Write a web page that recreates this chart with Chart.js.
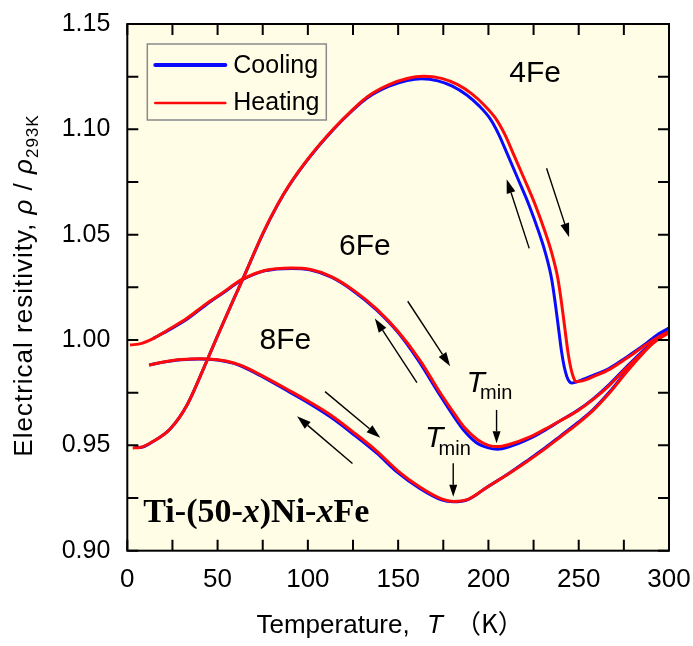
<!DOCTYPE html>
<html><head><meta charset="utf-8">
<script src="https://cdn.jsdelivr.net/npm/chart.js@4.4.0/dist/chart.umd.min.js"></script>
<style>html,body{margin:0;padding:0;background:#fff;}#wrap{width:693px;height:646px;}</style>
</head><body><div id="wrap"><canvas id="c" width="693" height="646"></canvas></div>
<script>
// ---- data (temperature in K, normalized resistivity) ----
const T4_heat   = [3, 7, 14, 24, 33, 44, 51, 59, 64, 75, 83, 90, 101, 114, 125, 133, 145, 155, 164, 174, 183, 191, 198, 204, 209, 214, 220, 226, 231.3, 235, 238.5, 240.5, 242.4, 244, 245.5, 247, 248.4, 252, 258, 267.3, 276.5, 285.7, 295, 300];
const rho4_heat = [0.9488, 0.9490, 0.9517, 0.9580, 0.9690, 0.9900, 1.0040, 1.0195, 1.0290, 1.0505, 1.0640, 1.0740, 1.0870, 1.1000, 1.1095, 1.1155, 1.1212, 1.1241, 1.1252, 1.1242, 1.1212, 1.1167, 1.1112, 1.1052, 1.0977, 1.0880, 1.0762, 1.0640, 1.0515, 1.0415, 1.0290, 1.0175, 1.0050, 0.9945, 0.9872, 0.9825, 0.9803, 0.9806, 0.9826, 0.9862, 0.9913, 0.9968, 1.0019, 1.0040];
const T4_cool   = [4, 7, 14, 24, 33, 44, 51, 59, 64, 75, 83, 90, 101, 114, 125, 133, 145, 155, 163, 172, 180, 188, 195, 201, 205.5, 210.5, 216.5, 222.5, 227.8, 231.5, 235, 237, 238.9, 240.5, 242, 243.5, 244.8, 246, 248, 252, 258, 267, 276, 286, 293, 300];
const rho4_cool = [0.9494, 0.9490, 0.9517, 0.9580, 0.9690, 0.9900, 1.0040, 1.0195, 1.0290, 1.0503, 1.0638, 1.0738, 1.0868, 1.0998, 1.1092, 1.1150, 1.1205, 1.1232, 1.1240, 1.1230, 1.1205, 1.1163, 1.1110, 1.1050, 1.0980, 1.0882, 1.0762, 1.0640, 1.0515, 1.0415, 1.0290, 1.0175, 1.0050, 0.9945, 0.9872, 0.9825, 0.9803, 0.9796, 0.9799, 0.9812, 0.9832, 0.9866, 0.9916, 0.9975, 1.0022, 1.0057];

const T6_heat   = [1.5, 8, 14, 22, 33, 44, 52, 64, 76, 91, 101, 113, 125, 138, 150, 162, 174, 182, 187, 194, 200, 205, 211, 223, 232, 240, 249, 258, 267, 276.5, 284, 291, 300];
const rho6_heat = [0.9976, 0.9984, 1.0005, 1.0045, 1.0103, 1.0174, 1.0220, 1.0290, 1.0330, 1.0342, 1.0336, 1.0301, 1.0238, 1.0148, 1.0040, 0.9905, 0.9740, 0.9640, 0.9582, 0.9527, 0.9500, 0.9494, 0.9503, 0.9540, 0.9580, 0.9618, 0.9662, 0.9718, 0.9785, 0.9868, 0.9930, 0.9984, 1.0035];
const T6_cool   = [14.4, 22, 33, 44, 52, 64, 76, 91, 101, 113, 125, 138, 150, 161, 173, 181, 186, 193, 200, 205, 211, 223, 232, 240, 249, 258, 267, 276.5, 284, 291, 300];
const rho6_cool = [1.0008, 1.0042, 1.0098, 1.0170, 1.0217, 1.0287, 1.0328, 1.0340, 1.0333, 1.0298, 1.0234, 1.0143, 1.0035, 0.9905, 0.9740, 0.9635, 0.9575, 0.9515, 0.9488, 0.9482, 0.9492, 0.9533, 0.9576, 0.9618, 0.9664, 0.9721, 0.9790, 0.9873, 0.9936, 0.9990, 1.0050];

const T8_heat   = [12, 20, 28, 33, 40, 50, 59, 64, 73.5, 89, 101, 113, 125, 138, 150, 162, 174, 180.5, 189, 199, 211, 223, 232, 240, 249, 258, 267, 276.5, 284, 291, 300];
const rho8_heat = [0.9881, 0.9896, 0.9906, 0.9909, 0.9911, 0.9906, 0.9891, 0.9876, 0.9836, 0.9764, 0.9706, 0.9642, 0.9564, 0.9474, 0.9378, 0.9302, 0.9246, 0.9234, 0.9245, 0.9300, 0.9364, 0.9433, 0.9488, 0.9541, 0.9600, 0.9666, 0.9748, 0.9848, 0.9922, 0.9984, 1.0042];
const T8_cool   = [12.2, 20, 28, 33, 40, 50, 59, 64, 73.5, 89, 101, 113, 125, 138, 150, 162, 174, 180.5, 189, 199, 211, 223, 232, 240, 249, 258, 267, 276.5, 284, 291, 300];
const rho8_cool = [0.9881, 0.9895, 0.9905, 0.9908, 0.9910, 0.9905, 0.9889, 0.9873, 0.9832, 0.9757, 0.9698, 0.9632, 0.9554, 0.9464, 0.9369, 0.9295, 0.9241, 0.9232, 0.9244, 0.9300, 0.9365, 0.9437, 0.9492, 0.9545, 0.9605, 0.9670, 0.9753, 0.9853, 0.9928, 0.9990, 1.0058];

const xTickValues = [0, 50, 100, 150, 200, 250, 300];
const yTickValues = [0.90, 0.95, 1.00, 1.05, 1.10, 1.15];
const legendLabels = ['Cooling', 'Heating'];
const sampleNames = ['4Fe', '6Fe', '8Fe'];
const sampleNameT   = [225.9, 131.6, 87.5];
const sampleNameRho = [1.1262, 1.0444, 0.9995];
// arrows: [tailT, tailRho, tipT, tipRho]
const arrowList = [
  [222.6, 1.0435, 210.1, 1.0763],
  [232.2, 1.0815, 244.7, 1.0488],
  [155.3, 1.0184, 178.8, 0.9876],
  [160.4, 0.9798, 137.1, 1.0102],
  [109.5, 0.9755, 140.1, 0.9536],
  [124.7, 0.9414, 94.0, 0.9638],
  [204.5, 0.9668, 204.5, 0.9510],
  [180.5, 0.9415, 180.5, 0.9256]
];
// T_min labels anchor (left, baseline) in data coords
const tminT   = [187.9, 164.9];
const tminRho = [0.9755, 0.9492];

const SANS = "'Liberation Sans', Arial, sans-serif";
const BLUE = '#0a0aff', RED = '#ff0a0a';

function pts(T, R) { return T.map((t, i) => ({x: t, y: R[i]})); }
function ds(label, T, R, color, order) {
  return {label, data: pts(T, R), borderColor: color, backgroundColor: color, borderWidth: 3,
    pointRadius: 0, fill: false, cubicInterpolationMode: 'monotone', order};
}

function drawArrow(ctx, x1, y1, x2, y2, head, hw) {
  const a = Math.atan2(y2 - y1, x2 - x1);
  const bx = x2 - head * Math.cos(a), by = y2 - head * Math.sin(a);
  ctx.beginPath(); ctx.moveTo(x1, y1); ctx.lineTo(bx, by); ctx.lineWidth = 1.4; ctx.stroke();
  ctx.beginPath(); ctx.moveTo(x2, y2);
  ctx.lineTo(bx + hw * Math.sin(a), by - hw * Math.cos(a));
  ctx.lineTo(bx - hw * Math.sin(a), by + hw * Math.cos(a));
  ctx.closePath(); ctx.fill();
}

function drawSegments(ctx, segs, x, y) {
  for (const s of segs) {
    ctx.font = s.font;
    ctx.fillText(s.text, x, y + (s.dy || 0));
    x += ctx.measureText(s.text).width + (s.gap || 0);
  }
}

function noPad(s) { s.paddingTop = 0; s.paddingBottom = 0; s.paddingLeft = 0; s.paddingRight = 0; }

const deco = {
  id: 'deco',
  beforeDatasetsDraw(chart) {
    const {ctx, chartArea: a} = chart;
    ctx.save(); ctx.fillStyle = '#fffde6';
    ctx.fillRect(a.left, a.top, a.right - a.left, a.bottom - a.top); ctx.restore();
  },
  afterDatasetsDraw(chart) {
    const {ctx, chartArea: a, scales: {x, y}} = chart;
    ctx.save();
    ctx.strokeStyle = '#000'; ctx.fillStyle = '#000';
    // frame
    ctx.lineWidth = 2;
    ctx.strokeRect(a.left, a.top, a.right - a.left, a.bottom - a.top);
    // inward ticks (major + minor)
    ctx.beginPath();
    for (let k = 0; k <= 12; k++) {
      const px = x.getPixelForValue(k * 25);
      ctx.moveTo(px, a.bottom); ctx.lineTo(px, a.bottom - 11);
      ctx.moveTo(px, a.top); ctx.lineTo(px, a.top + 11);
    }
    for (let k = 0; k <= 10; k++) {
      const py = y.getPixelForValue(0.9 + k * 0.025);
      ctx.moveTo(a.left, py); ctx.lineTo(a.left + 11, py);
      ctx.moveTo(a.right, py); ctx.lineTo(a.right - 11, py);
    }
    ctx.stroke();
    // arrows
    for (const [t1, r1, t2, r2] of arrowList) {
      const vert = t1 === t2;
      drawArrow(ctx, x.getPixelForValue(t1), y.getPixelForValue(r1), x.getPixelForValue(t2), y.getPixelForValue(r2), vert ? 12 : 14, vert ? 4 : 4.5);
    }
    // sample names
    ctx.textAlign = 'center'; ctx.textBaseline = 'middle';
    ctx.font = '30px ' + SANS;
    sampleNames.forEach((n, i) => ctx.fillText(n, x.getPixelForValue(sampleNameT[i]), y.getPixelForValue(sampleNameRho[i])));
    // T_min labels
    ctx.textAlign = 'left'; ctx.textBaseline = 'alphabetic';
    tminT.forEach((t, i) => {
      const px = x.getPixelForValue(t), py = y.getPixelForValue(tminRho[i]);
      ctx.font = 'italic 30px ' + SANS; ctx.fillText('T', px, py);
      ctx.font = '20px ' + SANS; ctx.fillText('min', px + 13.5, py + 7.6);
    });
    // composition label
    const B = "'Liberation Serif', 'Times New Roman', serif";
    drawSegments(ctx, [
      {text: 'Ti-(50-', font: 'bold 34px ' + B},
      {text: 'x', font: 'italic bold 34px ' + B},
      {text: ')Ni-', font: 'bold 34px ' + B},
      {text: 'x', font: 'italic bold 34px ' + B},
      {text: 'Fe', font: 'bold 34px ' + B}
    ], a.left + 16, 521.5);
    // legend
    const lx = a.left + 20, ly = a.top + 20;
    ctx.lineWidth = 1.5; ctx.strokeStyle = '#8a8a8a';
    ctx.strokeRect(lx, ly, 179, 76);
    ctx.lineCap = 'round';
    ctx.strokeStyle = BLUE; ctx.lineWidth = 4;
    ctx.beginPath(); ctx.moveTo(lx + 8, ly + 21); ctx.lineTo(lx + 78, ly + 21); ctx.stroke();
    ctx.strokeStyle = RED; ctx.lineWidth = 2.6;
    ctx.beginPath(); ctx.moveTo(lx + 8, ly + 59); ctx.lineTo(lx + 78, ly + 59); ctx.stroke();
    ctx.font = '25px ' + SANS; ctx.textBaseline = 'middle'; ctx.fillStyle = '#000';
    ctx.fillText(legendLabels[0], lx + 86, ly + 22);
    ctx.fillText(legendLabels[1], lx + 86, ly + 59);
    // x title
    ctx.textBaseline = 'alphabetic';
    ctx.font = '26px ' + SANS; ctx.fillText('Temperature,', 256.5, 633);
    ctx.font = 'italic 26px ' + SANS; ctx.fillText('T', 427, 633);
    ctx.font = "26px 'Noto Sans CJK JP', " + SANS; ctx.fillText('（K）', 455, 633);
    // y title (rotated)
    ctx.translate(31.5, 285.5); ctx.rotate(-Math.PI / 2);
    ctx.letterSpacing = '1px';
    const segs = [
      {text: 'Electrical resitivity, ', font: '26px ' + SANS},
      {text: 'ρ', font: 'italic 26px ' + SANS},
      {text: ' / ', font: '26px ' + SANS},
      {text: 'ρ', font: 'italic 26px ' + SANS},
      {text: '293K', font: '17px ' + SANS, dy: 6}
    ];
    let tw = 0;
    for (const s of segs) { ctx.font = s.font; tw += ctx.measureText(s.text).width; }
    drawSegments(ctx, segs, -tw / 2, 0);
    ctx.restore();
  }
};

const chart = new Chart(document.getElementById('c'), {
  type: 'line',
  data: {
    datasets: [
      ds('4Fe Heating', T4_heat, rho4_heat, RED, 0),
      ds('4Fe Cooling', T4_cool, rho4_cool, BLUE, 1),
      ds('6Fe Heating', T6_heat, rho6_heat, RED, 0),
      ds('6Fe Cooling', T6_cool, rho6_cool, BLUE, 1),
      ds('8Fe Heating', T8_heat, rho8_heat, RED, 0),
      ds('8Fe Cooling', T8_cool, rho8_cool, BLUE, 1)
    ]
  },
  options: {
    responsive: false, animation: false, devicePixelRatio: 1,
    layout: {padding: {left: 0, right: 24, top: 24, bottom: 0}},
    plugins: {legend: {display: false}, tooltip: {enabled: false}},
    scales: {
      x: {
        type: 'linear', min: 0, max: 300,
        grid: {display: false, drawTicks: false}, border: {display: false},
        afterBuildTicks: s => { s.ticks = xTickValues.map(v => ({value: v})); },
        afterFit: s => { s.height = 95.3; noPad(s); },
        ticks: {color: '#000', padding: 14, maxRotation: 0, font: {family: SANS, size: 26}, callback: v => String(v)}
      },
      y: {
        type: 'linear', min: 0.9, max: 1.15,
        grid: {display: false, drawTicks: false}, border: {display: false},
        afterBuildTicks: s => { s.ticks = yTickValues.map(v => ({value: v})); },
        afterFit: s => { s.width = 127.3; noPad(s); },
        ticks: {color: '#000', padding: 17, font: {family: SANS, size: 25}, callback: v => Number(v).toFixed(2)}
      }
    }
  },
  plugins: [deco]
});
</script></body></html>
